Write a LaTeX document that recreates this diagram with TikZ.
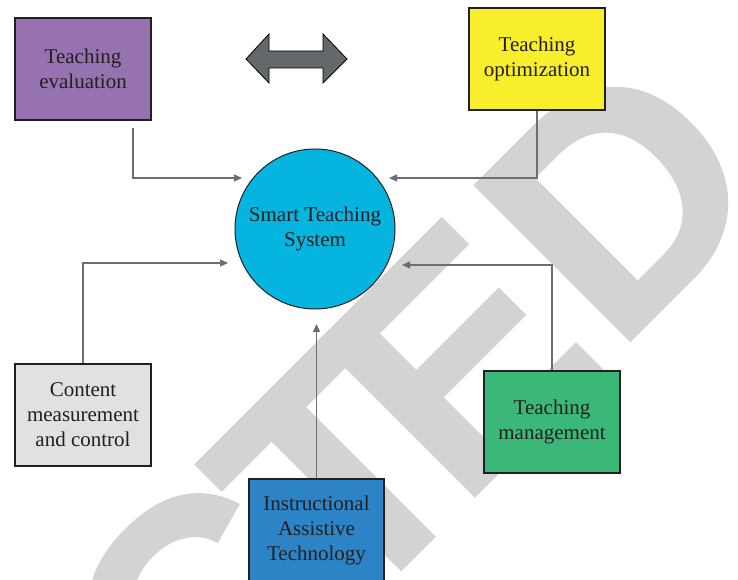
\documentclass[tikz,border=0pt]{standalone}
\usepackage{fontspec}
\setmainfont{Liberation Serif}
\newfontfamily\stampfont[FakeBold=1]{Liberation Sans Bold}
\usetikzlibrary{arrows.meta,calc}
\definecolor{inkc}{HTML}{231F20}
\definecolor{connc}{HTML}{6D6E71}
\definecolor{stampc}{HTML}{D3D3D3}
\definecolor{evalc}{HTML}{9672B0}
\definecolor{optc}{HTML}{F8EE2B}
\definecolor{sysc}{HTML}{05B5DF}
\definecolor{contc}{HTML}{E0E1E0}
\definecolor{mgmtc}{HTML}{3BB878}
\definecolor{instc}{HTML}{2C83C6}
\definecolor{dblc}{HTML}{63686A}
\begin{document}
\begin{tikzpicture}[x=1pt,y=1pt,
  box/.style={draw=inkc, line width=1.1pt, minimum width=136pt, minimum height=102pt,
    inner sep=0pt, align=center, text=inkc, font=\fontsize{21}{25}\selectfont},
  conn/.style={draw=connc, line width=1.2pt, -{Triangle[length=8pt,width=7pt]}},
  stamp/.style={inner sep=0pt, anchor=base west, text=stampc,
    font=\stampfont\fontsize{318}{318}\selectfont}]
\useasboundingbox (0,0) rectangle (738,580);
\fill[white] (0,0) rectangle (738,580);

% large stamp lettering running diagonally behind the diagram
\begin{scope}
  \clip (0,0) rectangle (738,580);
  \begin{scope}[rotate=45, transform shape]
    \node[stamp, anchor=base east] (stR) at (3,-276) {RETRA};
    \node[stamp] (stC) at (3,-276) {C};
    \node[stamp] (stT) at (217,-276) {T};
    \node[stamp] (stE) at (374,-276) {E};
    \node[stamp] (stD) at (594,-276) {D};
  \end{scope}
\end{scope}

% double-headed block arrow
\fill[fill=dblc, draw=black, line width=0.8pt]
  (246,521) -- (269,546) -- (269,529) -- (323,529) -- (323,546) -- (347,521)
  -- (323,497) -- (323,512) -- (269,512) -- (269,497) -- cycle;

% central system and surrounding blocks
\node[circle, draw=inkc, line width=1pt, fill=sysc, minimum size=160pt, inner sep=0pt,
  align=center, text=inkc, font=\fontsize{21}{25}\selectfont] (sys) at (315,351)
  {Smart Teaching\\System};
\node[box, fill=evalc] (eval) at (83,511) {Teaching\\evaluation};
\node[box, fill=optc] (opt) at (537,521) {Teaching\\optimization};
\node[box, fill=contc] (cont) at (83,165) {Content\\measurement\\and control};
\node[box, fill=mgmtc] (mgmt) at (552,158) {Teaching\\management};
\node[box, fill=instc, minimum width=135pt] (inst) at (316.5,50)
  {Instructional\\Assistive\\Technology};

% arrow end points next to the circle
\coordinate (tEval) at (242,402);
\coordinate (tOpt) at (389,402);
\coordinate (tCont) at (228,317);
\coordinate (tMgmt) at (402,315);
\coordinate (tInst) at (316.5,256);

% connectors
\draw[conn] ($(eval.south)+(50,-7)$) |- (tEval);
\draw[conn] (opt.south) |- (tOpt);
\draw[conn] (cont.north) |- (tCont);
\draw[conn] (mgmt.north) |- (tMgmt);
\draw[conn] (inst.north) -- (tInst);
\end{tikzpicture}
\end{document}
